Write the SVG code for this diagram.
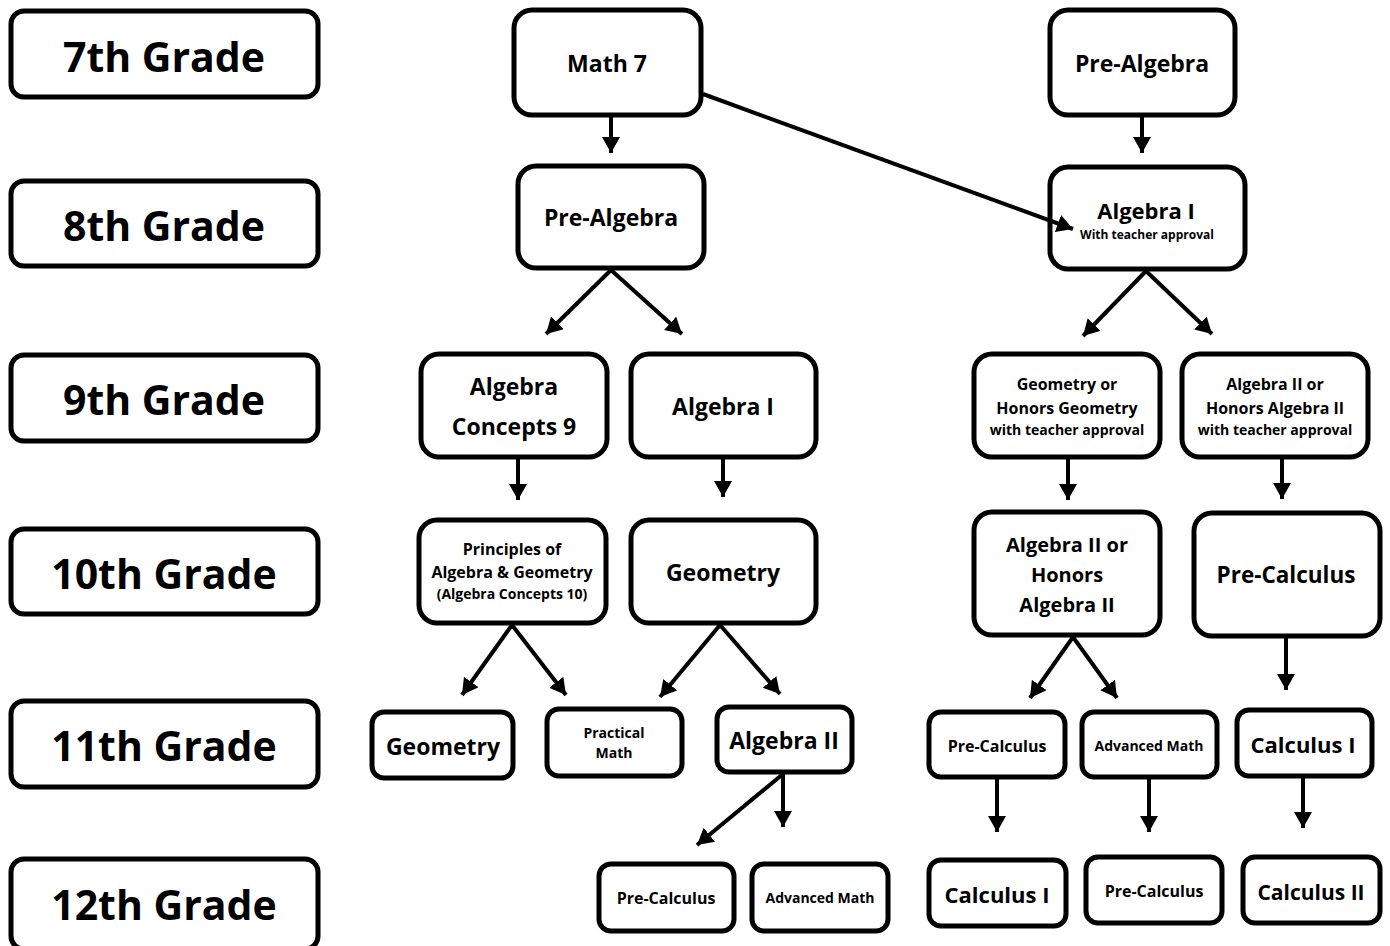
<svg xmlns="http://www.w3.org/2000/svg" width="1390" height="946" viewBox="0 0 1390 946">
<style>
.bg{fill:#fff}
.box{fill:#fff;stroke:#000;stroke-width:5}
text{font-family:"Open Sans","Noto Sans",sans-serif;font-weight:700;fill:#000;text-anchor:middle}
.g{font-size:41px}
.l{font-size:23px}
.m{font-size:20px}
.s{font-size:16px}
.xs{font-size:14px}
.xxs{font-size:12px}
.c line{stroke:#000;stroke-width:4;marker-end:url(#ah)}
</style>
<defs>
<marker id="ah" markerUnits="userSpaceOnUse" markerWidth="20" markerHeight="20" refX="16" refY="9" orient="auto">
<path d="M0,0 L16,9 L0,18 z" fill="#000"/>
</marker>
</defs>
<rect class="bg" x="0" y="0" width="1390" height="946"/>

<g id="grade7"><rect class="box" x="11" y="11" width="307" height="86" rx="13"/><text class="g" x="164" y="72">7th Grade</text></g>
<g id="grade8"><rect class="box" x="11" y="181" width="307" height="85" rx="13"/><text class="g" x="164" y="241">8th Grade</text></g>
<g id="grade9"><rect class="box" x="11" y="355" width="307" height="86" rx="13"/><text class="g" x="164" y="415">9th Grade</text></g>
<g id="grade10"><rect class="box" x="11" y="529" width="307" height="85" rx="13"/><text class="g" x="164" y="589">10th Grade</text></g>
<g id="grade11"><rect class="box" x="11" y="701" width="307" height="86" rx="13"/><text class="g" x="164" y="761">11th Grade</text></g>
<g id="grade12"><rect class="box" x="11" y="859" width="307" height="90" rx="13"/><text class="g" x="164" y="920">12th Grade</text></g>

<g id="math7"><rect class="box" x="514" y="10" width="187" height="105" rx="18"/><text class="l" x="607" y="72">Math 7</text></g>
<g id="prealg7"><rect class="box" x="1050" y="10" width="185" height="105" rx="18"/><text class="l" x="1142" y="72">Pre-Algebra</text></g>
<g id="prealg8"><rect class="box" x="518" y="166" width="186" height="102" rx="18"/><text class="l" x="611" y="226">Pre-Algebra</text></g>
<g id="alg1approval"><rect class="box" x="1050" y="167" width="195" height="102" rx="18"/><text class="m" x="1146" y="219" style="font-size:22px">Algebra I</text><text class="xxs" x="1147" y="239">With teacher approval</text></g>

<g id="algconcepts9"><rect class="box" x="421" y="354" width="186" height="103" rx="18"/><text class="l" x="514" y="395">Algebra</text><text class="l" x="514" y="435">Concepts 9</text></g>
<g id="alg1_9"><rect class="box" x="631" y="354" width="185" height="103" rx="18"/><text class="l" x="723" y="415">Algebra I</text></g>
<g id="geomhonors"><rect class="box" x="974" y="354" width="186" height="103" rx="18"/><text class="s" x="1067" y="390">Geometry or</text><text class="s" x="1067" y="414">Honors Geometry</text><text class="xs" x="1067" y="435">with teacher approval</text></g>
<g id="alg2honors9"><rect class="box" x="1182" y="354" width="186" height="103" rx="18"/><text class="s" x="1275" y="390">Algebra II or</text><text class="s" x="1275" y="414">Honors Algebra II</text><text class="xs" x="1275" y="435">with teacher approval</text></g>

<g id="principles"><rect class="box" x="419" y="520" width="187" height="103" rx="18"/><text class="s" x="512" y="555">Principles of</text><text class="s" x="512" y="578">Algebra &amp; Geometry</text><text class="xs" x="512" y="599">(Algebra Concepts 10)</text></g>
<g id="geom10"><rect class="box" x="631" y="520" width="185" height="103" rx="18"/><text class="l" x="723" y="581">Geometry</text></g>
<g id="alg2honors10"><rect class="box" x="974" y="512" width="186" height="123" rx="18"/><text class="m" x="1067" y="552">Algebra II or</text><text class="m" x="1067" y="582">Honors</text><text class="m" x="1067" y="612">Algebra II</text></g>
<g id="precalc10"><rect class="box" x="1194" y="513" width="186" height="123" rx="18"/><text class="l" x="1286" y="583" style="font-size:22.5px">Pre-Calculus</text></g>

<g id="geom11"><rect class="box" x="372" y="712" width="141" height="66" rx="12"/><text class="l" x="443" y="755">Geometry</text></g>
<g id="practical11"><rect class="box" x="547" y="709" width="135" height="67" rx="12"/><text class="xs" x="614" y="738">Practical</text><text class="xs" x="614" y="758">Math</text></g>
<g id="alg2_11"><rect class="box" x="717" y="707" width="135" height="65" rx="12"/><text class="l" x="784" y="749">Algebra II</text></g>
<g id="precalc11"><rect class="box" x="929" y="712" width="136" height="65" rx="12"/><text class="s" x="997" y="752">Pre-Calculus</text></g>
<g id="advmath11"><rect class="box" x="1082" y="712" width="135" height="65" rx="12"/><text class="xs" x="1149" y="751">Advanced Math</text></g>
<g id="calc1_11"><rect class="box" x="1237" y="710" width="135" height="66" rx="12"/><text class="l" x="1303" y="753" style="font-size:22px">Calculus I</text></g>

<g id="precalc12a"><rect class="box" x="599" y="864" width="135" height="67" rx="12"/><text class="s" x="666" y="904">Pre-Calculus</text></g>
<g id="advmath12"><rect class="box" x="752" y="864" width="136" height="67" rx="12"/><text class="xs" x="820" y="903">Advanced Math</text></g>
<g id="calc1_12"><rect class="box" x="929" y="860" width="137" height="66" rx="12"/><text class="l" x="997" y="903" style="font-size:22px">Calculus I</text></g>
<g id="precalc12b"><rect class="box" x="1086" y="857" width="136" height="66" rx="12"/><text class="s" x="1154" y="897">Pre-Calculus</text></g>
<g id="calc2_12"><rect class="box" x="1243" y="857" width="137" height="66" rx="12"/><text class="m" x="1311" y="900" style="font-size:21px">Calculus II</text></g>

<g id="connectors" class="c">
<line x1="611" y1="117" x2="611" y2="153"/>
<line x1="703" y1="94" x2="1073" y2="229"/>
<line x1="1142" y1="117" x2="1142" y2="153"/>
<line x1="611" y1="270" x2="546" y2="334"/>
<line x1="611" y1="270" x2="682" y2="334"/>
<line x1="1146" y1="271" x2="1083" y2="336"/>
<line x1="1146" y1="271" x2="1212" y2="334"/>
<line x1="518" y1="459" x2="518" y2="500"/>
<line x1="723" y1="459" x2="723" y2="497"/>
<line x1="1068" y1="459" x2="1068" y2="500"/>
<line x1="1282" y1="459" x2="1282" y2="499"/>
<line x1="512" y1="625" x2="462" y2="695"/>
<line x1="512" y1="625" x2="566" y2="695"/>
<line x1="720" y1="625" x2="660" y2="697"/>
<line x1="720" y1="625" x2="780" y2="694"/>
<line x1="1073" y1="637" x2="1030" y2="698"/>
<line x1="1073" y1="637" x2="1117" y2="698"/>
<line x1="1286" y1="638" x2="1286" y2="690"/>
<line x1="783" y1="774" x2="783" y2="827"/>
<line x1="783" y1="774" x2="697" y2="845"/>
<line x1="997" y1="779" x2="997" y2="832"/>
<line x1="1149" y1="779" x2="1149" y2="832"/>
<line x1="1303" y1="778" x2="1303" y2="828"/>
</g>
</svg>
